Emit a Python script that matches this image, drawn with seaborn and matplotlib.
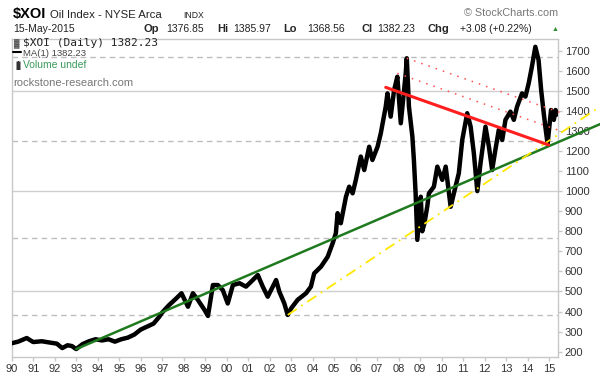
import numpy as np
import pandas as pd
import matplotlib
matplotlib.use("Agg")
import matplotlib.pyplot as plt
import seaborn as sns

# $XOI daily close (decimal year, index level)
years = [1990.0, 1990.3, 1990.7, 1991.0, 1991.4, 1991.8, 1992.1, 1992.35, 1992.6, 1992.8,
         1993.0, 1993.3, 1993.6, 1993.9, 1994.2, 1994.5, 1994.8, 1995.1, 1995.4, 1995.7,
         1996.0, 1996.3, 1996.6, 1996.85, 1997.0, 1997.3, 1997.66, 1997.9, 1998.2, 1998.43,
         1998.66, 1998.97, 1999.13, 1999.36, 1999.59, 1999.82, 2000.05, 2000.29, 2000.6, 2000.9,
         2001.14, 2001.45, 2001.68, 2001.91, 2002.3, 2002.45, 2002.68, 2002.84, 2003.0, 2003.3,
         2003.69, 2003.92, 2004.07, 2004.39, 2004.7, 2004.93, 2005.08, 2005.16, 2005.31, 2005.55,
         2005.7, 2005.86, 2006.01, 2006.24, 2006.4, 2006.63, 2006.78, 2007.02, 2007.17, 2007.4,
         2007.48, 2007.63, 2007.79, 2007.94, 2008.1, 2008.33, 2008.38, 2008.48, 2008.64, 2008.71,
         2008.79, 2008.87, 2009.03, 2009.1, 2009.2, 2009.33, 2009.41, 2009.64, 2009.8, 2010.03,
         2010.19, 2010.42, 2010.57, 2010.8, 2010.96, 2011.19, 2011.35, 2011.5, 2011.66, 2011.81,
         2012.04, 2012.2, 2012.35, 2012.5, 2012.66, 2012.82, 2012.97, 2013.2, 2013.36, 2013.51,
         2013.74, 2013.9, 2014.05, 2014.2, 2014.36, 2014.51, 2014.63, 2014.75, 2014.85, 2014.93,
         2015.09, 2015.22, 2015.3, 2015.37]
close = [242, 250, 268, 248, 252, 245, 240, 218, 232, 228,
         213, 238, 252, 262, 256, 262, 250, 262, 270, 285,
         310, 325, 340, 372, 395, 430, 466, 491, 424, 491,
         458, 408, 378, 532, 532, 507, 440, 532, 541, 524,
         549, 582, 524, 474, 557, 499, 441, 383, 416, 458,
         491, 524, 590, 624, 673, 740, 790, 890, 840, 972,
         1022, 989, 1056, 1172, 1105, 1221, 1155, 1221, 1288, 1421,
         1487, 1371, 1504, 1570, 1338, 1587, 1662, 1421, 1271, 1155,
         989, 757, 972, 800, 840, 922, 989, 1022, 1122, 1056,
         1122, 922, 989, 1089, 1255, 1388, 1321, 1188, 1000, 1139,
         1321, 1221, 1105, 1205, 1305, 1255, 1355, 1396, 1355, 1421,
         1487, 1471, 1537, 1620, 1719, 1653, 1504, 1388, 1300, 1235,
         1404, 1355, 1404, 1382]

# drawn trend lines (start / end points)
green_x, green_y = [1993.0, 2017.4], [213, 1335]
yellow_x, yellow_y = [2002.84, 2017.4], [383, 1423]
red_x, red_y = [2007.40, 2014.98], [1517, 1230]
red_dot1_x, red_dot1_y = [2008.38, 2015.6], [1662, 1388]
red_dot2_x, red_dot2_y = [2007.94, 2015.6], [1587, 1297]
levels = [383, 768, 1248, 1668]

y_ticks = list(range(200, 1800, 100))
x_ticks = list(range(1990, 2016))
x_labels = ["%02d" % (y % 100) for y in x_ticks]

df = pd.DataFrame({"year": years, "close": close})

sns.set_theme(style="white")
plt.rcParams['font.family'] = ['Liberation Sans', 'DejaVu Sans']

fig = plt.figure(figsize=(6, 3.78), dpi=100)
ax = fig.add_axes([0.0195, 0.0556, 0.910, 0.8413])

for v in [500, 1000, 1500]:
    ax.axhline(v, color="#cfcfcf", lw=1, zorder=0)
for v in levels:
    ax.axhline(v, color="#bdbdbd", lw=1, ls=(0, (4, 3)), zorder=0)

sns.lineplot(data=df, x="year", y="close", ax=ax, color="black", lw=3.2, zorder=3)

ax.plot(green_x, green_y, color="#1f7a1f", lw=1.8, clip_on=False, zorder=4)
ax.plot(yellow_x, yellow_y, color="#ffe800", lw=1.3, ls=(0, (6, 3, 1, 3)), clip_on=False, zorder=4)
ax.plot(red_x, red_y, color="#ff1f1f", lw=2.2, zorder=5)
ax.plot(red_dot1_x, red_dot1_y, color="#ff5050", lw=1.1, ls=(0, (1, 4)), clip_on=False, zorder=4)
ax.plot(red_dot2_x, red_dot2_y, color="#ff5050", lw=1.1, ls=(0, (1, 4)), clip_on=False, zorder=4)

ax.set_xlim(1990.0, 2015.4)
ax.set_ylim(173.6, 1758)
ax.set_xticks(x_ticks)
ax.set_xticklabels(x_labels)
ax.set_yticks(y_ticks)
ax.yaxis.tick_right()
ax.tick_params(axis="both", labelsize=8, colors="#c8c8c8", labelcolor="#333333",
               length=3, width=1, pad=2, bottom=True, right=True, left=False)
ax.set_xlabel("")
ax.set_ylabel("")
for s in ax.spines.values():
    s.set_color("#c8c8c8")
    s.set_linewidth(1)

# header
def ftext(x, y, s, **kw):
    fig.text(x / 600, 1 - y / 378, s, va="baseline", ha=kw.pop("ha", "left"), **kw)

ftext(13, 18, "$XOI", fontsize=10.5, fontweight="bold", color="black")
ftext(50, 18, "Oil Index - NYSE Arca", fontsize=8.2, color="#222222")
ftext(183, 18, "INDX", fontsize=6.2, color="#222222")
ftext(13, 32, "15-May-2015", fontsize=7.5, color="#222222")
ftext(143, 32, "Op", fontsize=8, fontweight="bold")
ftext(166, 32, "1376.85", fontsize=7.5, color="#222222")
ftext(217, 32, "Hi", fontsize=8, fontweight="bold")
ftext(233, 32, "1385.97", fontsize=7.5, color="#222222")
ftext(283, 32, "Lo", fontsize=8, fontweight="bold")
ftext(307, 32, "1368.56", fontsize=7.5, color="#222222")
ftext(361, 32, "Cl", fontsize=8, fontweight="bold")
ftext(377, 32, "1382.23", fontsize=7.5, color="#222222")
ftext(428, 32, "Chg", fontsize=8, fontweight="bold")
ftext(460, 32, "+3.08 (+0.22%)", fontsize=7.5, color="#222222")
ftext(555, 31, "\u25b2", fontsize=5, color="#2e8b2e", ha="center")
ftext(558, 16, "\u00a9 StockCharts.com", fontsize=7.8, color="#777777", ha="right")

# legend block inside the plot
ftext(14, 46, "\u2593", fontsize=5.5, color="#333333")
ftext(23, 46, "$XOI (Daily) 1382.23", fontsize=8, family="DejaVu Sans Mono", color="#222222")
fig.add_artist(plt.Line2D([13 / 600, 21 / 600], [1 - 52 / 378] * 2, color="black", lw=1.5))
ftext(23, 56.5, "MA(1) 1382.23", fontsize=6.8, color="#444444")
ftext(13, 68.5, "\u2590\u258c", fontsize=5, color="#333333")
ftext(23, 68.5, "Volume undef", fontsize=7.5, color="#3a9a5a")
ftext(13, 86, "rockstone-research.com", fontsize=8, color="#777777")

fig.savefig("out.png", dpi=100)
